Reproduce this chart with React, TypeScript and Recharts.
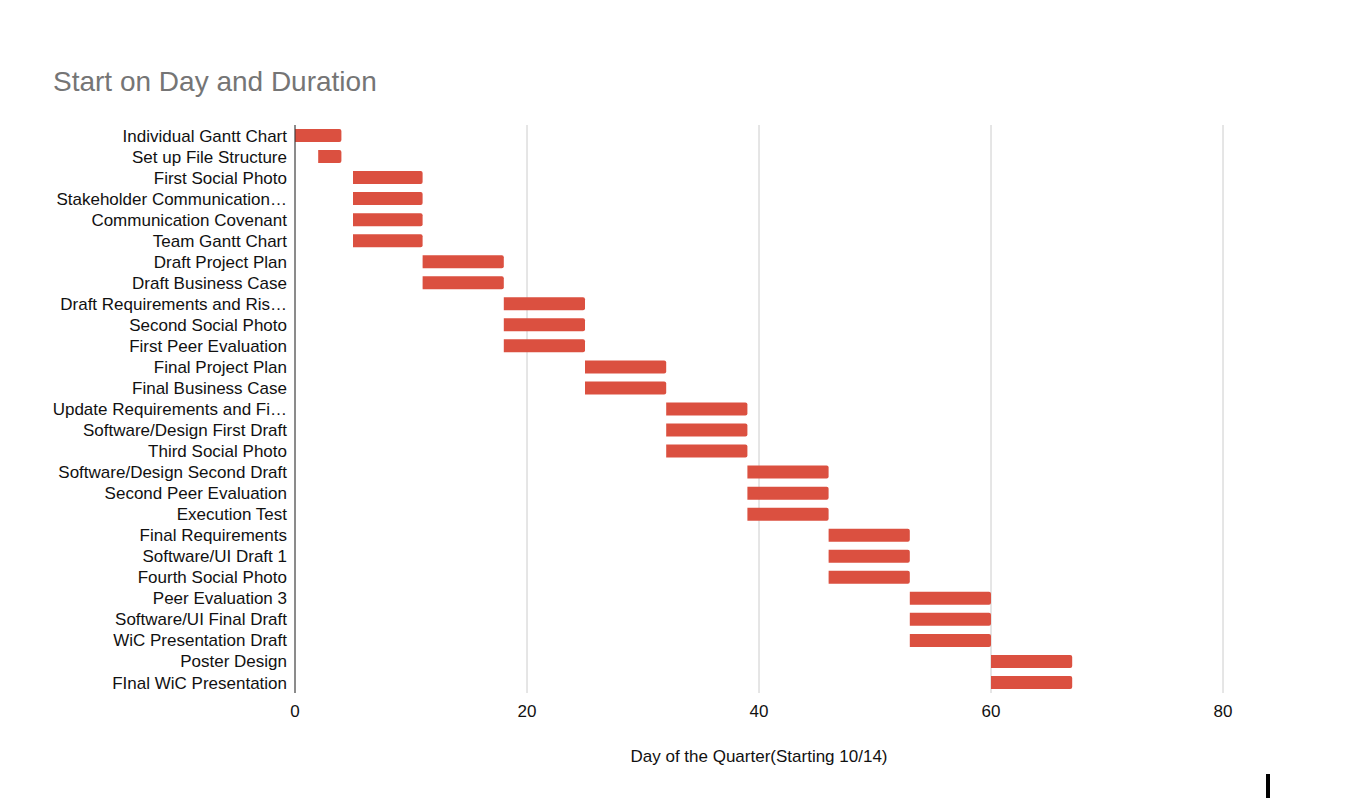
import React from 'react'
import { Bar, BarChart, CartesianGrid, Label, XAxis, YAxis } from 'recharts'

const tasks = [
    'Individual Gantt Chart',
    'Set up File Structure',
    'First Social Photo',
    'Stakeholder Communication…',
    'Communication Covenant',
    'Team Gantt Chart',
    'Draft Project Plan',
    'Draft Business Case',
    'Draft Requirements and Ris…',
    'Second Social Photo',
    'First Peer Evaluation',
    'Final Project Plan',
    'Final Business Case',
    'Update Requirements and Fi…',
    'Software/Design First Draft',
    'Third Social Photo',
    'Software/Design Second Draft',
    'Second Peer Evaluation',
    'Execution Test',
    'Final Requirements',
    'Software/UI Draft 1',
    'Fourth Social Photo',
    'Peer Evaluation 3',
    'Software/UI Final Draft',
    'WiC Presentation Draft',
    'Poster Design',
    'FInal WiC Presentation',
]

const startDays = [0, 2, 5, 5, 5, 5, 11, 11, 18, 18, 18, 25, 25, 32, 32, 32, 39, 39, 39, 46, 46, 46, 53, 53, 53, 60, 60]
const durations = [4, 2, 6, 6, 6, 6, 7, 7, 7, 7, 7, 7, 7, 7, 7, 7, 7, 7, 7, 7, 7, 7, 7, 7, 7, 7, 7]
const xTicks = [0, 20, 40, 60, 80]

const data = tasks.map((name, i) => ({ name, start: startDays[i], duration: durations[i] }))

const font = 'Arial, "Liberation Sans", sans-serif'

export default function App() {
    return (
        <div style={{ position: 'absolute', left: 0, top: 0, width: 1350, height: 800, background: '#fff', fontFamily: font }}>
            <div style={{ position: 'absolute', left: 53, top: 66, fontSize: 28, color: '#757575' }}>
                Start on Day and Duration
            </div>
            <BarChart
                width={1350}
                height={800}
                data={data}
                layout="vertical"
                margin={{ top: 125, right: 127, bottom: 0, left: 0 }}
                barCategoryGap={4}
            >
                <CartesianGrid horizontal={false} stroke="#cccccc" />
                <XAxis
                    type="number"
                    domain={[0, 80]}
                    ticks={xTicks}
                    axisLine={false}
                    tickLine={false}
                    tickMargin={6}
                    height={107}
                    tick={{ fill: '#111', fontSize: 17, fontFamily: font }}
                >
                    <Label
                        value="Day of the Quarter(Starting 10/14)"
                        position="insideBottom"
                        offset={38}
                        style={{ fill: '#111', fontSize: 17, fontFamily: font }}
                    />
                </XAxis>
                <YAxis
                    type="category"
                    dataKey="name"
                    width={295}
                    interval={0}
                    tickLine={false}
                    tickMargin={2}
                    axisLine={{ stroke: '#333' }}
                    tick={{ fill: '#111', fontSize: 17, fontFamily: font }}
                />
                <Bar dataKey="start" stackId="a" fill="transparent" barSize={13} isAnimationActive={false} />
                <Bar dataKey="duration" stackId="a" fill="#db5040" barSize={13} radius={[0, 2, 2, 0]} isAnimationActive={false} />
            </BarChart>
            <div style={{ position: 'absolute', left: 1266, top: 774, width: 4, height: 24, background: '#000' }} />
        </div>
    )
}
